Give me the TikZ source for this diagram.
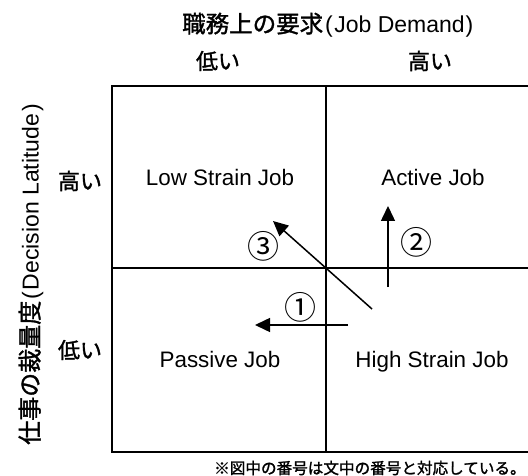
\documentclass[tikz,border=0pt]{standalone}
\usepackage{fontspec}
\setmainfont{Liberation Sans}
\newfontfamily\cjk{Noto Sans CJK JP}[FakeBold=1.5]
\newfontfamily\cjknum{Noto Sans CJK JP}
\usetikzlibrary{arrows.meta}
\newcommand\jpfont{\cjk\fontsize{22}{24}\selectfont}
\newcommand\ltfont{\fontsize{23}{25}\selectfont}
\begin{document}
\begin{tikzpicture}[x=1pt,y=-1pt,
  gridline/.style={line width=1.6pt},
  arr/.style={line width=1.5pt,-{Triangle[length=15pt,width=14pt]}},
  quad/.style={font=\fontsize{22.4}{24}\selectfont, inner sep=0pt, anchor=base},
  jp/.style={font=\jpfont, inner sep=0pt},
  num/.style={font=\cjknum\fontsize{32}{34}\selectfont, inner sep=0pt}]
\useasboundingbox[fill=white] (0,0) rectangle (528,476);
% grid
\coordinate (tl) at (112,86);
\coordinate (br) at (540,452);
\coordinate (mt) at (326,86);
\coordinate (mb) at (326,452);
\coordinate (ml) at (112,268);
\coordinate (mr) at (540,268);
\draw[gridline] (tl) rectangle (br);
\draw[gridline] (mt) -- (mb);
\draw[gridline] (ml) -- (mr);
% axis titles
\node[inner sep=0pt, anchor=west] (xtitle) at (182,25)
  {{\cjk\fontsize{23.5}{25}\selectfont 職務上の要求}{\ltfont\hspace{2pt}(\hspace{1.5pt}Job Demand\hspace{1pt})}};
\node[inner sep=0pt, anchor=west, rotate=90] (ytitle) at (31,445)
  {{\cjk\fontsize{24}{26}\selectfont 仕事の裁量度}{\ltfont\hspace{1pt}(\hspace{2pt}Decision Latitude\hspace{2pt})}};
% level labels
\node[jp] (xlow) at (218,61) {低い};
\node[jp] (xhigh) at (430,61) {高い};
\node[jp] (yhigh) at (80,181) {高い};
\node[jp] (ylow) at (80,350) {低い};
% quadrant labels
\node[quad] (lsj) at (220,186) {Low Strain Job};
\node[quad] (aj) at (433,186) {Active Job};
\node[quad] (pj) at (220,367) {Passive Job};
\node[quad] (hsj) at (432,367) {High Strain Job};
% arrows
\coordinate (a1s) at (348,325); \coordinate (a1e) at (255,325);
\coordinate (a2s) at (388,287); \coordinate (a2e) at (388,206);
\coordinate (a3s) at (372,309); \coordinate (a3e) at (273,221);
\draw[arr] (a1s) -- (a1e);
\draw[arr] (a2s) -- (a2e);
\draw[arr] (a3s) -- (a3e);
\node[num] (n1) at (300,307) {①};
\node[num] (n2) at (416,242) {②};
\node[num] (n3) at (263,246) {③};
% footnote
\node[anchor=west, font=\cjk\fontsize{15.6}{17}\selectfont, inner sep=0pt] (note) at (214,468)
  {※図中の番号は文中の番号と対応している。};
\end{tikzpicture}
\end{document}
